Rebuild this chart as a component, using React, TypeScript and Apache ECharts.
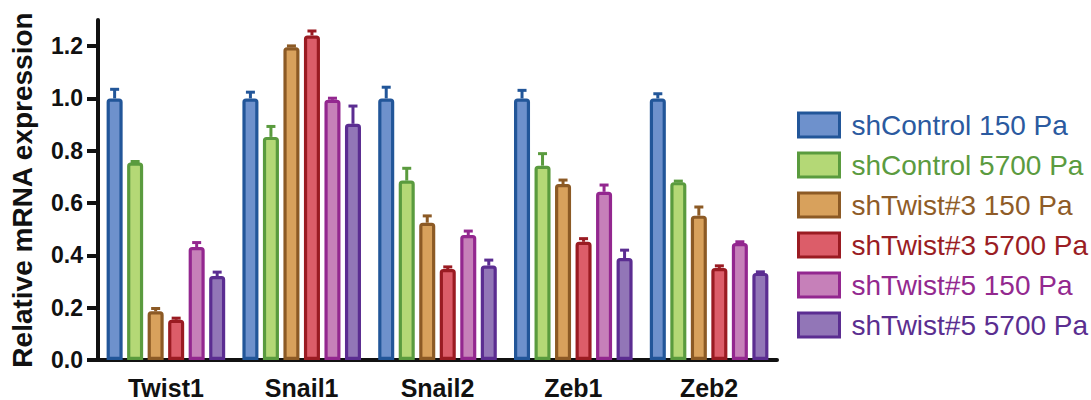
import React, { useEffect, useRef } from "react";
import * as echarts from "echarts";

const categories = ["Twist1", "Snail1", "Snail2", "Zeb1", "Zeb2"];
const seriesNames = [
  "shControl 150 Pa",
  "shControl 5700 Pa",
  "shTwist#3 150 Pa",
  "shTwist#3 5700 Pa",
  "shTwist#5 150 Pa",
  "shTwist#5 5700 Pa",
];
const shControl150 = [1.0, 1.0, 1.0, 1.0, 1.0];
const shControl150Err = [0.035, 0.024, 0.043, 0.031, 0.018];
const shControl5700 = [0.755, 0.853, 0.686, 0.743, 0.68];
const shControl5700Err = [0.004, 0.04, 0.047, 0.046, 0.004];
const shTwist3_150 = [0.186, 1.196, 0.525, 0.673, 0.552];
const shTwist3_150Err = [0.011, 0.005, 0.026, 0.015, 0.033];
const shTwist3_5700 = [0.154, 1.241, 0.348, 0.452, 0.352];
const shTwist3_5700Err = [0.006, 0.017, 0.008, 0.012, 0.008];
const shTwist5_150 = [0.432, 0.995, 0.478, 0.643, 0.447];
const shTwist5_150Err = [0.017, 0.006, 0.015, 0.026, 0.005];
const shTwist5_5700 = [0.321, 0.903, 0.361, 0.39, 0.333];
const shTwist5_5700Err = [0.015, 0.068, 0.021, 0.03, 0.004];
const yTicks = [0, 0.2, 0.4, 0.6, 0.8, 1.0, 1.2];

const values = [shControl150, shControl5700, shTwist3_150, shTwist3_5700, shTwist5_150, shTwist5_5700];
const errors = [shControl150Err, shControl5700Err, shTwist3_150Err, shTwist3_5700Err, shTwist5_150Err, shTwist5_5700Err];

const borderColors = ["#225699", "#5a9b3e", "#8c5a25", "#9a1b22", "#93278f", "#5b2d91"];
const fillColors = ["#6e91cc", "#b4d876", "#d8a15c", "#dc5d69", "#c680b9", "#9276b7"];
const textColors = ["#2b5aa0", "#5b9b40", "#8f5c28", "#9a1d24", "#93298f", "#5b2e90"];

const FONT = "'Liberation Sans', Arial, Helvetica, sans-serif";
const BAR_W = 0.118;
const BAR_GAP = 0.28;

export default function App() {
  const ref = useRef<HTMLDivElement>(null);
  useEffect(() => {
    if (!ref.current) return;
    const chart = echarts.init(ref.current, undefined, { renderer: "svg" });
    const n = seriesNames.length;
    const barSeries = seriesNames.map((name, i) => ({
      name,
      type: "bar",
      data: values[i],
      barWidth: BAR_W * 100 + "%",
      barGap: BAR_GAP * 100 + "%",
      itemStyle: {
        color: fillColors[i],
        borderColor: borderColors[i],
        borderWidth: 3.2,
        borderRadius: [2, 2, 0, 0],
      },
    }));
    const errSeries = seriesNames.map((name, i) => ({
      name: "err-" + i,
      type: "custom",
      z: 5,
      data: values[i].map((v, c) => [c, v, errors[i][c]]),
      renderItem: (params: any, api: any) => {
        const c = api.value(0);
        const v = api.value(1);
        const e = api.value(2);
        const band = api.size([1, 0])[0];
        const w = band * BAR_W;
        const total = n * w + (n - 1) * w * BAR_GAP;
        const center = api.coord([c, 0])[0];
        const x = center - total / 2 + i * (w * (1 + BAR_GAP)) + w / 2;
        const y0 = api.coord([c, v])[1];
        const y1 = api.coord([c, v + e])[1];
        const style = { stroke: borderColors[i], lineWidth: 3 };
        return {
          type: "group",
          children: [
            { type: "line", shape: { x1: x, y1: y0, x2: x, y2: y1 }, style },
            { type: "line", shape: { x1: x - 4.5, y1: y1, x2: x + 4.5, y2: y1 }, style },
          ],
        };
      },
    }));
    chart.setOption({
      animation: false,
      grid: { left: 98, right: 314, top: 20, bottom: 40 },
      legend: {
        orient: "vertical",
        left: 792,
        top: 106,
        itemWidth: 41,
        itemHeight: 24,
        itemGap: 12,
        icon: "rect",
        itemStyle: { borderWidth: 3 },
        data: seriesNames.map((name, i) => ({
          name,
          textStyle: { color: textColors[i] },
        })),
        textStyle: {
          fontFamily: FONT,
          fontSize: 28,
          lineHeight: 28,
          padding: [0, 0, 0, 7],
        },
      },
      xAxis: {
        type: "category",
        data: categories,
        axisLine: { lineStyle: { color: "#111", width: 4 } },
        axisTick: { alignWithLabel: true, length: 11, lineStyle: { color: "#111", width: 4 } },
        axisLabel: { color: "#111", fontFamily: FONT, fontWeight: "bold", fontSize: 25, margin: 15 },
      },
      yAxis: {
        type: "value",
        min: 0,
        max: 1.3,
        interval: 0.2,
        name: "Relative mRNA expression",
        nameLocation: "middle",
        nameGap: 62,
        nameTextStyle: { color: "#111", fontFamily: FONT, fontWeight: "bold", fontSize: 28 },
        splitLine: { show: false },
        axisLine: { show: true, lineStyle: { color: "#111", width: 4 } },
        axisTick: { show: true, length: 11, customValues: yTicks, lineStyle: { color: "#111", width: 4 } },
        axisLabel: {
          color: "#111",
          fontFamily: FONT,
          fontWeight: "bold",
          fontSize: 23,
          margin: 15,
          customValues: yTicks,
          formatter: (v: number) => v.toFixed(1),
        },
      },
      series: [...barSeries, ...errSeries],
    });
    return () => chart.dispose();
  }, []);
  return (
    <div
      ref={ref}
      style={{ position: "fixed", left: 0, top: 0, width: 1091, height: 400, background: "#fff" }}
    />
  );
}
